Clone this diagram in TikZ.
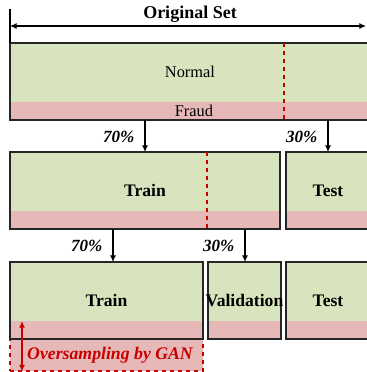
\documentclass[tikz,border=0pt]{standalone}
\usepackage{fontspec}
\setmainfont{Liberation Serif}
\usepackage{tikz}
\usetikzlibrary{arrows.meta}
\usetikzlibrary{fit}
\definecolor{normalgreen}{RGB}{215,228,189}
\definecolor{fraudpink}{RGB}{230,185,184}
\definecolor{splitred}{RGB}{200,0,0}
\tikzset{setbox/.style={draw=black!85, line width=1pt, fill=normalgreen, inner sep=0pt, outer sep=0pt,
  path picture={\fill[fraudpink] (path picture bounding box.south west) rectangle ([yshift=13.5pt]path picture bounding box.south east);}},
  boxtext/.style={font=\fontsize{13.2}{15}\selectfont\bfseries},
  cut/.style={splitred, dashed, line width=1pt},
  pct/.style={font=\fontsize{12.8}{14}\selectfont\bfseries\itshape, anchor=east},
  down/.style={-{Latex[length=5pt,width=4.5pt]}, line width=0.8pt}}

\begin{document}
\begin{tikzpicture}[x=0.75pt, y=-0.75pt]
\useasboundingbox (0,0) rectangle (367,372);
\clip (0,0) rectangle (367,372);
% original set
 \node[setbox, fit={(10,43) (380,120)}] (orig) {};
 \node[font=\fontsize{12.3}{14}\selectfont] (normal) at (190,72) {Normal};
 \node[font=\fontsize{12.3}{14}\selectfont] (fraud) at (194,111) {Fraud};
 \draw[cut] (284,43) -- (284,120);
 \coordinate (leftend) at (10,9);
 \coordinate (origL) at (10,26);
 \coordinate (origR) at (366,26);
 \draw[line width=1pt] (leftend) -- (leftend |- orig.north);
 \draw[{Latex[length=5pt,width=4.5pt]}-{Latex[length=5pt,width=4.5pt]}, line width=0.8pt] (origL) -- (origR);
 \node[boxtext, font=\fontsize{13.5}{15}\selectfont\bfseries] (origtext) at (190,14) {Original Set};
% first split
 \node[setbox, fit={(10,152) (280,229)}] (train1) {};
 \node[setbox, fit={(286,152) (380,229)}] (test1) {};
 \draw[cut] (207,152) -- (207,229);
 \node[boxtext] (train1text) at (train1.center) {Train};
 \node[boxtext] (test1text) at (328,191) {Test};
 \coordinate (a1) at (145,120);
 \coordinate (a2) at (328,120);
 \draw[down] (a1) -- (a1 |- train1.north);
 \draw[down] (a2) -- (a2 |- test1.north);
 \node[pct] (p70a) at (139,137) {70\%};
 \node[pct] (p30a) at (322,137) {30\%};
% second split
 \node[fit={(10,339) (203,371)}, draw=splitred, dashed, fill=fraudpink, line width=0.8pt, inner sep=0pt] (gan) {};
 \node[setbox, fit={(10,262) (203,339)}] (train2) {};
 \node[setbox, fit={(208,262) (281,339)}] (val) {};
 \node[setbox, fit={(286,262) (380,339)}] (test2) {};
 \node[boxtext] (train2text) at (train2.center) {Train};
 \node[boxtext] (valtext) at (val.center) {Validation};
 \node[boxtext] (test2text) at (328,301) {Test};
 \coordinate (b1) at (113,229);
 \coordinate (b2) at (245,229);
 \draw[down] (b1) -- (b1 |- train2.north);
 \draw[down] (b2) -- (b2 |- val.north);
 \node[pct] (p70b) at (107,246) {70\%};
 \node[pct] (p30b) at (239,246) {30\%};
% oversampling
 \coordinate (ganTop) at (22,321);
 \draw[splitred, line width=0.9pt, {Latex[length=5pt,width=4.5pt]}-{Latex[length=5pt,width=4.5pt]}] (ganTop) -- (ganTop |- gan.south);
 \node[pct, anchor=center, text=splitred, font=\fontsize{13.3}{15}\selectfont\bfseries\itshape] (gantext) at (110,355) {Oversampling by GAN};
\end{tikzpicture}
\end{document}
